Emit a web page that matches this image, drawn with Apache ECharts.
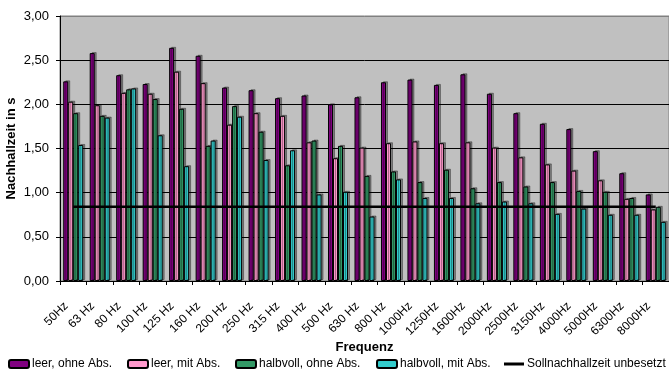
<!DOCTYPE html>
<html>
<head>
<meta charset="utf-8">
<script src="https://cdn.jsdelivr.net/npm/echarts@6/dist/echarts.min.js"></script>
<style>html,body{margin:0;padding:0;background:#fff}#c{width:669px;height:372px}</style>
</head>
<body>
<div id="c"></div>
<script>
var categories = ['50Hz','63 Hz','80 Hz','100 Hz','125 Hz','160 Hz','200 Hz','250 Hz','315 Hz','400 Hz','500 Hz','630 Hz','800 Hz','1000Hz','1250Hz','1600Hz','2000Hz','2500Hz','3150Hz','4000Hz','5000Hz','6300Hz','8000Hz'];
var leerOhne =     [2.26,2.58,2.33,2.23,2.64,2.55,2.19,2.16,2.07,2.10,2.00,2.08,2.25,2.28,2.22,2.34,2.12,1.90,1.78,1.72,1.47,1.22,0.98];
var leerMit =      [2.03,1.99,2.13,2.12,2.37,2.24,1.77,1.90,1.87,1.57,1.39,1.51,1.56,1.58,1.56,1.57,1.51,1.40,1.32,1.25,1.14,0.93,0.81];
var halbvollOhne = [1.90,1.87,2.17,2.06,1.95,1.53,1.98,1.69,1.31,1.59,1.53,1.19,1.24,1.12,1.26,1.05,1.12,1.07,1.12,1.02,1.01,0.94,0.84];
var halbvollMit =  [1.54,1.85,2.18,1.65,1.30,1.59,1.86,1.37,1.48,0.98,1.01,0.73,1.15,0.94,0.94,0.88,0.90,0.88,0.76,0.82,0.75,0.75,0.67];
var sollValue = 0.84;
var yTicks = [0, 0.5, 1, 1.5, 2, 2.5, 3];
var seriesNames = ['leer, ohne Abs.','leer, mit Abs.','halbvoll, ohne Abs.','halbvoll, mit Abs.','Sollnachhallzeit unbesetzt'];

var FONT = 'Arial, "Liberation Sans", sans-serif';
var colors = ['#800080','#FF99CC','#339966','#33CCCC'];
var barData = [leerOhne, leerMit, halbvollOhne, halbvollMit];
var soll = categories.map(function(){ return sollValue; });

var series = barData.map(function(d, i){
  return {
    name: seriesNames[i], type: 'bar', data: d, barWidth: 5, barGap: '0%',
    itemStyle: {color: colors[i], borderColor: '#000', borderWidth: 1,
      shadowColor: 'rgba(0,0,0,0.35)', shadowOffsetX: 2, shadowOffsetY: -1, shadowBlur: 0}
  };
});
series.push({
  name: seriesNames[4], type: 'line', data: soll, symbol: 'none', z: 5,
  lineStyle: {color: '#000', width: 2.5}, itemStyle: {color: '#000'}
});

var legendLefts = [8, 127, 235, 376, 504];
var legends = seriesNames.map(function(n, i){
  return {
    data: [i < 4 ? {name: n} : {name: n, icon: 'rect', itemStyle: {color: '#000', borderWidth: 0}}],
    left: legendLefts[i], top: 358, itemWidth: 20, itemHeight: i < 4 ? 8 : 3, itemGap: 0,
    textStyle: {fontFamily: FONT, fontSize: 12, color: '#000', padding: [0,0,0,-2]}, padding: 0, selectedMode: false
  };
});

var chart = echarts.init(document.getElementById('c'), null, {renderer: 'canvas'});
chart.setOption({
  animation: false,
  textStyle: {fontFamily: FONT},
  legend: legends,
  grid: {left: 60, right: 0, top: 16, bottom: 91, show: true, backgroundColor: '#C0C0C0', borderColor: '#808080', borderWidth: 1,
    containLabel: false, outerBoundsMode: 'none'},
  xAxis: {
    type: 'category', data: categories, boundaryGap: true,
    name: 'Frequenz', nameLocation: 'middle', nameGap: 60, nameMoveOverlap: false,
    nameTextStyle: {fontFamily: FONT, fontSize: 13, fontWeight: 'bold', color: '#000'},
    axisLine: {lineStyle: {color: '#000', width: 1}},
    axisTick: {show: true, length: 4, lineStyle: {color: '#000'}},
    axisLabel: {interval: 0, rotate: 45, fontSize: 12, color: '#000', fontFamily: FONT, margin: 16, padding: [0, 10, 0, 0]}
  },
  yAxis: {
    type: 'value', min: yTicks[0], max: yTicks[yTicks.length-1], interval: 0.5,
    name: 'Nachhallzeit in s', nameLocation: 'middle', nameGap: 42, nameMoveOverlap: false,
    nameTextStyle: {fontFamily: FONT, fontSize: 13, fontWeight: 'bold', color: '#000'},
    axisLine: {show: true, lineStyle: {color: '#000'}},
    axisTick: {show: true, length: 4, lineStyle: {color: '#000'}},
    axisLabel: {fontSize: 13, color: '#000', fontFamily: FONT, margin: 11,
      formatter: function(v){ return v.toFixed(2).replace('.', ','); }},
    splitLine: {show: true, lineStyle: {color: ['#000','#000','#000','#000','#000','#000','#808080'], width: 1}}
  },
  series: series
});
</script>
</body>
</html>
